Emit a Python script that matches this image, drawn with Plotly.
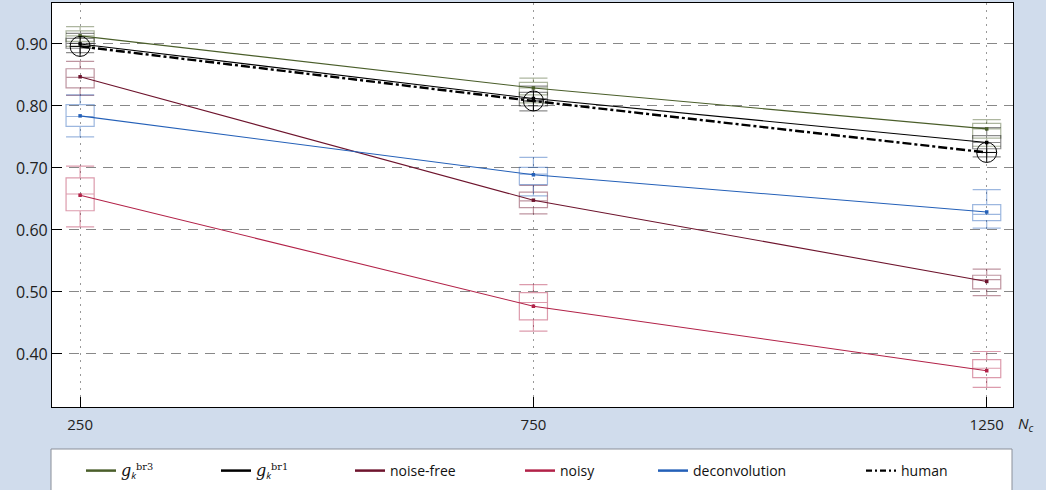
import plotly.graph_objects as go

Nc = [250, 750, 1250]

# mean values (lines + small markers)
g_br3_mean = [0.913, 0.829, 0.763]
g_br1_mean = [0.900, 0.812, 0.741]
noise_free_mean = [0.847, 0.648, 0.517]
noisy_mean = [0.656, 0.477, 0.373]
deconv_mean = [0.784, 0.689, 0.629]
human = [0.896, 0.808, 0.725]

# box statistics: lower whisker, q1, median, q3, upper whisker
g_br3_lo = [0.896, 0.805, 0.735]
g_br3_q1 = [0.904, 0.818, 0.748]
g_br3_med = [0.913, 0.829, 0.763]
g_br3_q3 = [0.921, 0.838, 0.772]
g_br3_hi = [0.928, 0.845, 0.778]

g_br1_lo = [0.886, 0.792, 0.718]
g_br1_q1 = [0.893, 0.800, 0.731]
g_br1_med = [0.901, 0.812, 0.741]
g_br1_q3 = [0.909, 0.822, 0.752]
g_br1_hi = [0.917, 0.832, 0.765]

nf_lo = [0.817, 0.626, 0.494]
nf_q1 = [0.829, 0.636, 0.505]
nf_med = [0.846, 0.647, 0.520]
nf_q3 = [0.860, 0.661, 0.527]
nf_hi = [0.872, 0.672, 0.537]

noisy_lo = [0.605, 0.437, 0.346]
noisy_q1 = [0.631, 0.455, 0.362]
noisy_med = [0.658, 0.483, 0.377]
noisy_q3 = [0.684, 0.499, 0.391]
noisy_hi = [0.703, 0.512, 0.404]

dc_lo = [0.750, 0.655, 0.603]
dc_q1 = [0.767, 0.673, 0.615]
dc_med = [0.783, 0.690, 0.625]
dc_q3 = [0.802, 0.701, 0.641]
dc_hi = [0.818, 0.717, 0.665]

y_ticks = [0.40, 0.50, 0.60, 0.70, 0.80, 0.90]

SERIF = "font-family:DejaVu Serif"
def gk(tag):
    return ("<span style='%s;font-size:16px'><i>g</i></span><sub><i>k</i></sub>"
            "<sup><span style='%s'>%s</span></sup>" % (SERIF, SERIF, tag))

series = [
    ("g3", gk("br3"), (74, 94, 42), g_br3_mean,
     (g_br3_lo, g_br3_q1, g_br3_med, g_br3_q3, g_br3_hi)),
    ("g1", gk("br1"), (0, 0, 0), g_br1_mean,
     (g_br1_lo, g_br1_q1, g_br1_med, g_br1_q3, g_br1_hi)),
    ("nf", "noise-free", (110, 20, 45), noise_free_mean,
     (nf_lo, nf_q1, nf_med, nf_q3, nf_hi)),
    ("ny", "noisy", (178, 34, 72), noisy_mean,
     (noisy_lo, noisy_q1, noisy_med, noisy_q3, noisy_hi)),
    ("dc", "deconvolution", (36, 96, 184), deconv_mean,
     (dc_lo, dc_q1, dc_med, dc_q3, dc_hi)),
]

legend_x = [87, 222, 356, 526, 659, 867]  # pixel start of each legend entry line
PL, PR, PT, PB = 52, 33, 3, 83
W, H = 1046, 490
pw = W - PL - PR
ph = H - PT - PB

def px2paper_x(px):
    return (px - PL) / pw

def px2paper_y(py):
    return (H - PB - py) / ph

fig = go.Figure()

for i, (key, name, c, mean, stats) in enumerate(series):
    lo, q1, med, q3, hi = stats
    rgba = "rgba(%d,%d,%d,0.45)" % c
    fig.add_trace(go.Box(
        x=Nc, lowerfence=lo, q1=q1, median=med, q3=q3, upperfence=hi,
        width=31, whiskerwidth=1, fillcolor="rgba(0,0,0,0)",
        line=dict(color=rgba, width=1.2), showlegend=False, hoverinfo="skip",
        boxpoints=False,
    ))

for i, (key, name, c, mean, stats) in enumerate(series):
    col = "rgb(%d,%d,%d)" % c
    fig.add_trace(go.Scatter(
        x=Nc, y=mean, mode="lines+markers", showlegend=False,
        line=dict(color=col, width=1.1),
        marker=dict(color=col, size=3.5, symbol="square"),
    ))

fig.add_trace(go.Scatter(
    x=Nc, y=human, mode="lines+markers", showlegend=False,
    line=dict(color="black", width=2.4, dash="9px,3px,3px,3px"),
    marker=dict(symbol="circle-cross-open", size=20, color="black",
                line=dict(width=1, color="black")),
))

# legend entries (thicker key lines, as in the reference)
for i, (key, name, c, mean, stats) in enumerate(series):
    col = "rgb(%d,%d,%d)" % c
    lg = "legend" if i == 0 else "legend%d" % (i + 1)
    fig.add_trace(go.Scatter(
        x=[None], y=[None], mode="lines", name=name,
        line=dict(color=col, width=2.5), legend=lg,
    ))
fig.add_trace(go.Scatter(
    x=[None], y=[None], mode="lines", name="human",
    line=dict(color="black", width=2.2, dash="6px,3px,2px,3px"), legend="legend6",
))

legend_common = dict(
    orientation="h", yanchor="middle", xanchor="left",
    bgcolor="rgba(0,0,0,0)", borderwidth=0,
    font=dict(family="Open Sans", size=14, color="#111"),
)
legends = {}
for i, lx in enumerate(legend_x):
    key = "legend" if i == 0 else "legend%d" % (i + 1)
    legends[key] = dict(legend_common, x=px2paper_x(lx - 6), y=px2paper_y(471))

fig.update_layout(
    width=W, height=H,
    margin=dict(l=PL, r=PR, t=PT, b=PB, autoexpand=False),
    paper_bgcolor="#d0dcec",
    plot_bgcolor="white",
    boxmode="overlay",
    font=dict(family="Open Sans", size=14, color="#222"),
    **legends,
)

fig.update_xaxes(
    range=[219, 1279], tickvals=Nc, ticktext=[str(v) for v in Nc],
    showgrid=True, gridcolor="#999", griddash="2px,5px", gridwidth=1,
    ticks="inside", ticklen=10, tickcolor="black", tickwidth=1.2,
    showline=True, linecolor="black", linewidth=1.2, mirror=True,
    zeroline=False, tickfont=dict(size=15), ticklabelstandoff=4,
)
fig.update_yaxes(
    range=[0.3145, 0.966], tickvals=y_ticks, tickformat=".2f",
    showgrid=True, gridcolor="#888", griddash="10px,7px", gridwidth=1,
    ticks="inside", ticklen=10, tickcolor="black", tickwidth=1.2,
    showline=True, linecolor="black", linewidth=1.2, mirror=True,
    zeroline=False, tickfont=dict(size=16),
)

# legend frame
fig.add_shape(
    type="rect", xref="paper", yref="paper",
    x0=px2paper_x(51), x1=px2paper_x(1012),
    y0=px2paper_y(500), y1=px2paper_y(449),
    line=dict(color="#8a8f99", width=1), fillcolor="white", layer="below",
)

fig.add_annotation(
    text="<i>N</i><sub><i>c</i></sub>", xref="paper", yref="paper",
    x=px2paper_x(1036), y=px2paper_y(437), showarrow=False,
    font=dict(family="Open Sans", size=15, color="#222"),
)

fig.write_html("out.html", config={"displayModeBar": False},
               post_script="document.body.style.margin='0';")
